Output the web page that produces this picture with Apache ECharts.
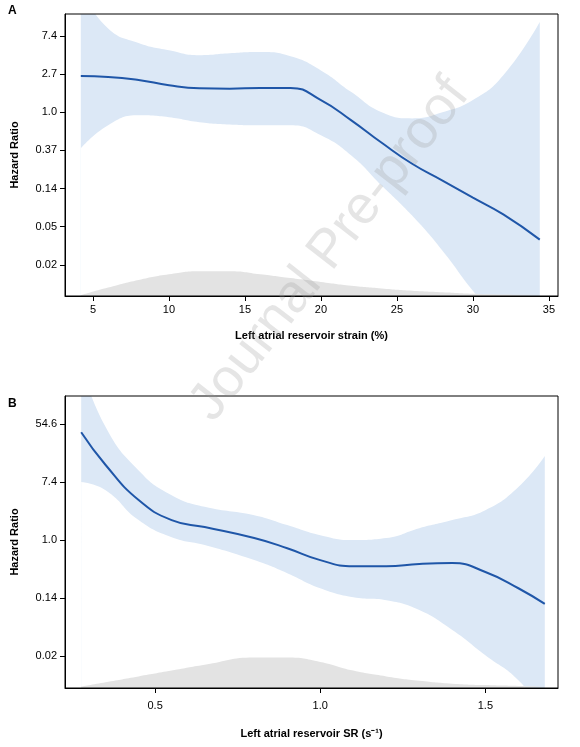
<!DOCTYPE html>
<html><head><meta charset="utf-8">
<script src="https://cdn.jsdelivr.net/npm/echarts@6/dist/echarts.min.js"></script>
<style>html,body{margin:0;padding:0;background:#fff}#c{width:580px;height:747px}</style>
</head><body><div id="c"></div>
<script>
// values are ln(hazard ratio)
var aX     = [4.2, 6, 8, 10, 12, 14, 16, 18, 20, 22, 24, 26, 28, 30, 32, 34.4];
var aFit   = [0.95, 0.93, 0.85, 0.71, 0.63, 0.62, 0.64, 0.64, 0.32, -0.21, -0.80, -1.35, -1.79, -2.24, -2.68, -3.34];
var aUpper = [3.2, 2.2, 1.82, 1.63, 1.5, 1.55, 1.58, 1.47, 1.1, 0.53, 0.0, -0.16, 0.0, 0.32, 0.97, 2.37];
var aLower = [-0.95, -0.34, -0.08, -0.13, -0.26, -0.32, -0.34, -0.34, -0.6, -1.13, -1.92, -2.71, -3.63, -4.68, -5.6, -6];
var aDens  = [-4.8, -4.6, -4.4, -4.25, -4.17, -4.17, -4.25, -4.35, -4.45, -4.55, -4.62, -4.68, -4.72, -4.76, -4.78, -4.79];
var aTicks = [2, 1, 0, -1, -2, -3, -4];

var bX     = [0.276, 0.35, 0.45, 0.55, 0.65, 0.8, 0.9, 1.0, 1.1, 1.2, 1.3, 1.4, 1.5, 1.6, 1.68];
var bFit   = [3.72, 2.59, 1.38, 0.69, 0.45, 0.07, -0.28, -0.69, -0.9, -0.9, -0.82, -0.79, -1.1, -1.66, -2.2];
var bUpper = [6.0, 3.9, 2.4, 1.55, 1.15, 0.86, 0.52, 0.17, 0.0, 0.07, 0.41, 0.69, 1.03, 1.83, 2.9];
var bLower = [2.0, 1.72, 0.69, 0.1, -0.17, -0.69, -1.14, -1.66, -1.97, -2.07, -2.41, -3.1, -3.97, -4.83, -6.0];
var bDens  = [-5.05, -4.9, -4.7, -4.5, -4.3, -4.05, -4.05, -4.2, -4.5, -4.7, -4.85, -4.95, -5.0, -5.03, -5.05];
var bTicks = [4, 2, 0, -2, -4];

var chart = echarts.init(document.getElementById('c'));
function pairs(x, y) { return x.map(function (v, i) { return [v, y[i]]; }); }
function fmtHR(v) {
  var h = Math.exp(v);
  return h >= 1 ? h.toFixed(1) : h.toFixed(2);
}
var txt = { color: '#000', fontFamily: 'Liberation Sans, Arial', fontSize: 11 };

function panel(i, x, fit, up, lo, dens) {
  return [
    { type: 'line', xAxisIndex: i, yAxisIndex: i, data: pairs(x, up), smooth: true, symbol: 'none',
      lineStyle: { width: 0 }, areaStyle: { color: '#dce8f6', opacity: 1, origin: 'start' }, z: 1 },
    { type: 'line', xAxisIndex: i, yAxisIndex: i, data: pairs(x, lo), smooth: true, symbol: 'none',
      lineStyle: { width: 0 }, areaStyle: { color: '#ffffff', opacity: 1, origin: 'start' }, z: 2 },
    { type: 'line', xAxisIndex: i, yAxisIndex: i, data: pairs(x, dens), smooth: true, symbol: 'none',
      lineStyle: { width: 0 }, areaStyle: { color: '#e3e3e3', opacity: 1, origin: 'start' }, z: 3 },
    { type: 'line', xAxisIndex: i, yAxisIndex: i, data: pairs(x, fit), smooth: true, symbol: 'none',
      lineStyle: { color: '#1f56a8', width: 2 }, z: 4 }
  ];
}
var axLine = { show: true, onZero: false, lineStyle: { color: '#000' } };

chart.setOption({
  animation: false,
  grid: [
    { left: 65, top: 14, width: 493, height: 282, show: true, borderColor: '#000', borderWidth: 1, z: 10 },
    { left: 65, top: 396, width: 493, height: 292, show: true, borderColor: '#000', borderWidth: 1, z: 10 }
  ],
  xAxis: [
    { type: 'value', gridIndex: 0, min: 3.16, max: 35.6, splitLine: { show: false }, axisLine: axLine,
      axisTick: { length: 5, lineStyle: { color: '#000' }, customValues: [5, 10, 15, 20, 25, 30, 35] },
      axisLabel: Object.assign({ customValues: [5, 10, 15, 20, 25, 30, 35], margin: 8 }, txt),
      name: 'Left atrial reservoir strain (%)', nameLocation: 'middle', nameGap: 34,
      nameTextStyle: Object.assign({}, txt, { fontWeight: 'bold' }) },
    { type: 'value', gridIndex: 1, min: 0.227, max: 1.72, splitLine: { show: false }, axisLine: axLine,
      axisTick: { length: 5, lineStyle: { color: '#000' }, customValues: [0.5, 1.0, 1.5] },
      axisLabel: Object.assign({ customValues: [0.5, 1.0, 1.5], margin: 12, formatter: function (v) { return v.toFixed(1); } }, txt),
      name: 'Left atrial reservoir SR (s\u207B\u00B9)', nameLocation: 'middle', nameGap: 40,
      nameTextStyle: Object.assign({}, txt, { fontWeight: 'bold' }) }
  ],
  yAxis: [
    { type: 'value', gridIndex: 0, min: -4.82, max: 2.58, splitLine: { show: false }, axisLine: axLine,
      axisTick: { length: 5, lineStyle: { color: '#000' }, customValues: aTicks },
      axisLabel: Object.assign({ customValues: aTicks, formatter: fmtHR }, txt),
      name: 'Hazard Ratio', nameLocation: 'middle', nameGap: 45, nameRotate: 90,
      nameTextStyle: Object.assign({}, txt, { fontWeight: 'bold' }) },
    { type: 'value', gridIndex: 1, min: -5.1, max: 4.97, splitLine: { show: false }, axisLine: axLine,
      axisTick: { length: 5, lineStyle: { color: '#000' }, customValues: bTicks },
      axisLabel: Object.assign({ customValues: bTicks, formatter: fmtHR }, txt),
      name: 'Hazard Ratio', nameLocation: 'middle', nameGap: 45, nameRotate: 90,
      nameTextStyle: Object.assign({}, txt, { fontWeight: 'bold' }) }
  ],
  series: panel(0, aX, aFit, aUpper, aLower, aDens).concat(panel(1, bX, bFit, bUpper, bLower, bDens)),
  graphic: [
    { type: 'text', left: 8, top: 5, style: { text: 'A', font: 'bold 12px Liberation Sans, Arial', fill: '#000' } },
    { type: 'text', left: 8, top: 398, style: { text: 'B', font: 'bold 12px Liberation Sans, Arial', fill: '#000' } },
    { type: 'text', x: 330, y: 250, rotation: Math.PI * 52 / 180, z: 100,
      style: { text: 'Journal Pre-proof', font: '54px Liberation Sans, Arial', fill: 'rgba(150,150,150,0.25)',
        align: 'center', verticalAlign: 'middle' } }
  ]
});
</script></body></html>
